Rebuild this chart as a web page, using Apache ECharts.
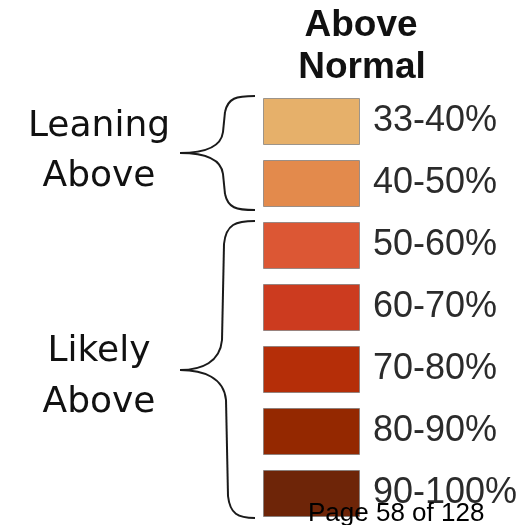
<!DOCTYPE html>
<html>
<head>
<meta charset="utf-8">
<script src="https://cdn.jsdelivr.net/npm/echarts@6/dist/echarts.min.js"></script>
<style>
html,body{margin:0;padding:0;background:#fff;}
#chart{width:528px;height:525px;}
</style>
</head>
<body>
<div id="chart"></div>
<script>
var categories = ['33-40%', '40-50%', '50-60%', '60-70%', '70-80%', '80-90%', '90-100%'];
var values = [1, 1, 1, 1, 1, 1, 1];
var colors = ['#E6B06A', '#E38A4C', '#DC5734', '#CC3B1F', '#B52E08', '#942800', '#6E2508'];
var titleLines = ['Above', 'Normal'];
var groupLabels = [['Leaning', 'Above'], ['Likely', 'Above']];
var footer = 'Page 58 of 128';

var chart = echarts.init(document.getElementById('chart'), null, {renderer: 'canvas'});

var seriesData = values.map(function (v, i) {
  return {value: v, itemStyle: {color: colors[i]}};
});

var leftFont = '36px "DejaVu Sans", Verdana, sans-serif';
var titleFont = 'bold 37px "Liberation Sans", Arial, sans-serif';

function txt(text, x, y, font, fill, align) {
  return {
    type: 'text', silent: true, z: 100,
    style: {text: text, x: x, y: y, font: font, fill: fill, align: align || 'center', verticalAlign: 'middle'}
  };
}

var braceStyle = {stroke: '#1a1a1a', lineWidth: 2, fill: null};
function bz(x1, y1, c1x, c1y, c2x, c2y, x2, y2) {
  return {type: 'bezierCurve', silent: true,
    shape: {x1: x1, y1: y1, cpx1: c1x, cpy1: c1y, cpx2: c2x, cpy2: c2y, x2: x2, y2: y2},
    style: braceStyle};
}
function ln(x1, y1, x2, y2) {
  return {type: 'line', silent: true, shape: {x1: x1, y1: y1, x2: x2, y2: y2}, style: braceStyle};
}

var option = {
  animation: false,
  backgroundColor: '#ffffff',
  grid: {left: 263, width: 97, top: 90.5, height: 434},
  xAxis: {type: 'value', min: 0, max: 1, show: false},
  yAxis: {type: 'category', data: categories, inverse: true, show: false},
  series: [{
    type: 'bar',
    data: seriesData,
    barWidth: 47,
    itemStyle: {borderColor: 'rgba(120,120,120,0.7)', borderWidth: 1},
    label: {
      show: true,
      position: 'right',
      distance: 13,
      formatter: function (p) { return p.name; },
      fontSize: 36,
      fontFamily: '"Liberation Sans", Arial, sans-serif',
      color: '#2b2b2b'
    }
  }],
  graphic: [
    txt(titleLines[0], 361, 26, titleFont, '#111'),
    txt(titleLines[1], 362, 68, titleFont, '#111'),
    txt(groupLabels[0][0], 99, 127, leftFont, '#111'),
    txt(groupLabels[0][1], 99, 177, leftFont, '#111'),
    txt(groupLabels[1][0], 99, 352, leftFont, '#111'),
    txt(groupLabels[1][1], 99, 403, leftFont, '#111'),
    txt(footer, 308, 514, '26px "Liberation Sans", Arial, sans-serif', '#000', 'left'),
    bz(255, 96, 236, 96, 228, 98, 225, 112),
    ln(225, 112, 223, 132),
    bz(223, 132, 221, 148, 202, 153, 180, 153),
    bz(180, 153, 202, 153, 221, 158, 223, 174),
    ln(223, 174, 225, 194),
    bz(225, 194, 228, 208, 236, 210, 255, 210),
    bz(255, 221, 236, 221, 226, 224, 224, 244),
    ln(224, 244, 222, 340),
    bz(222, 340, 220, 362, 202, 370, 180, 370),
    bz(180, 370, 204, 370, 224, 378, 226, 400),
    ln(226, 400, 228, 496),
    bz(228, 496, 230, 514, 238, 518, 255, 518)
  ]
};
chart.setOption(option);
</script>
</body>
</html>
